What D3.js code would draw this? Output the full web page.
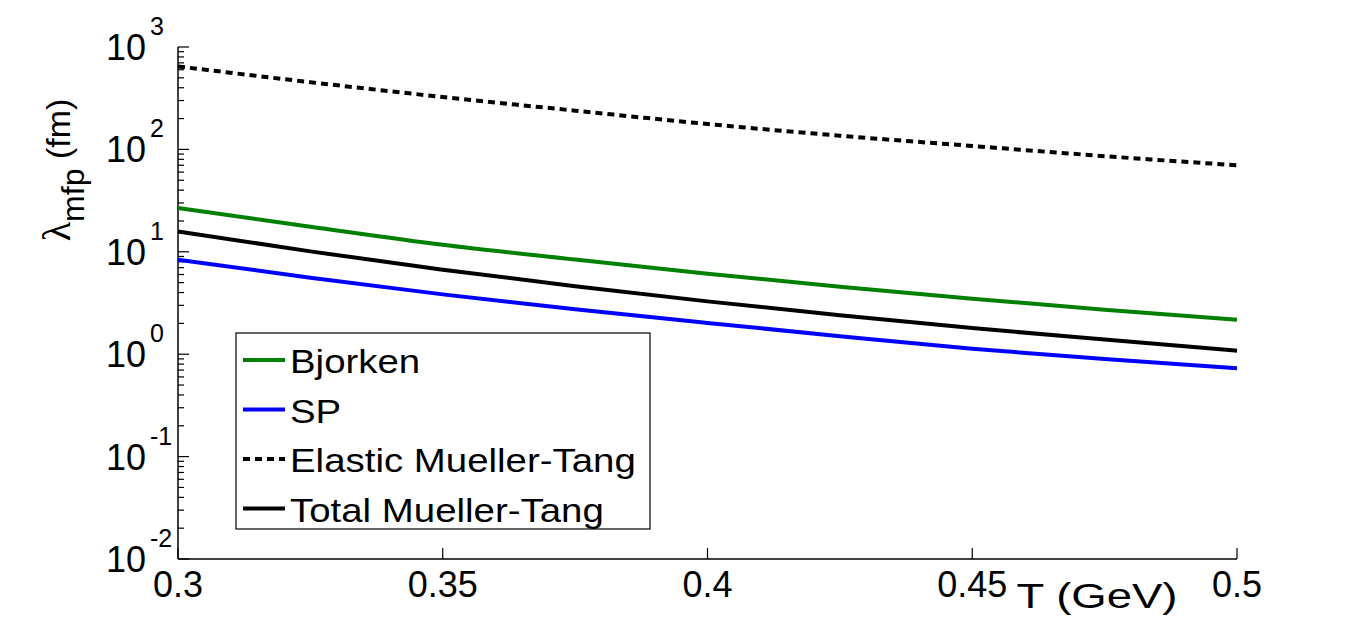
<!DOCTYPE html>
<html>
<head>
<meta charset="utf-8">
<script src="https://cdn.jsdelivr.net/npm/d3@7"></script>
<style>
  body { margin: 0; background: #fff; }
  text { font-family: "Liberation Sans", Arial, sans-serif; fill: #000; }
</style>
</head>
<body>
<svg id="chart" width="1367" height="628"></svg>
<script>
// data
var temps = [0.3, 0.325, 0.35, 0.375, 0.4, 0.425, 0.45, 0.475, 0.5];
var bjorken = [26.8, 17.6, 11.7, 8.4, 6.11, 4.56, 3.48, 2.72, 2.17];
var sp = [8.37, 5.58, 3.84, 2.75, 2.02, 1.50, 1.13, 0.90, 0.73];
var elasticMT = [646, 453, 325, 239, 177, 136, 108, 85.9, 70];
var totalMT = [15.8, 10.1, 6.69, 4.61, 3.28, 2.40, 1.80, 1.39, 1.08];
var xTicks = [0.3, 0.35, 0.4, 0.45, 0.5];
var yExps = [-2, -1, 0, 1, 2, 3];

var series = [
	{ name: "Bjorken", vals: bjorken, color: "#008000", dash: null },
	{ name: "SP", vals: sp, color: "#0000ff", dash: null },
	{ name: "Elastic Mueller-Tang", vals: elasticMT, color: "#000", dash: "7,5" },
	{ name: "Total Mueller-Tang", vals: totalMT, color: "#000", dash: null }
];

var svg = d3.select("#chart");
var pLeft = 178, pRight = 1237, pTop = 47, pBottom = 559;

var x = d3.scaleLinear().domain([0.3, 0.5]).range([pLeft, pRight]);
var y = d3.scaleLog().domain([0.01, 1000]).range([pBottom, pTop]);

// axes lines (box off)
svg.append("line").attr("x1", pLeft).attr("x2", pLeft).attr("y1", pTop).attr("y2", pBottom)
	.attr("stroke", "#000").attr("stroke-width", 1.5);
svg.append("line").attr("x1", pLeft).attr("x2", pRight).attr("y1", pBottom).attr("y2", pBottom)
	.attr("stroke", "#000").attr("stroke-width", 1.5);

// y ticks (inward), minor too
var minors = [];
yExps.forEach(function(e){
	if (e < 3) {
		for (var k = 2; k <= 9; k++) minors.push(k * Math.pow(10, e));
	}
});
svg.selectAll(".ymin").data(minors).enter().append("line")
	.attr("x1", pLeft).attr("x2", pLeft + 6)
	.attr("y1", function(d){ return y(d); }).attr("y2", function(d){ return y(d); })
	.attr("stroke", "#000").attr("stroke-width", 1.2);
svg.selectAll(".ymaj").data(yExps).enter().append("line")
	.attr("x1", pLeft).attr("x2", pLeft + 11)
	.attr("y1", function(d){ return y(Math.pow(10, d)); }).attr("y2", function(d){ return y(Math.pow(10, d)); })
	.attr("stroke", "#000").attr("stroke-width", 1.2);

var ylab = svg.selectAll(".ylab").data(yExps).enter().append("g");
ylab.append("text")
	.attr("x", 146).attr("y", function(d){ return y(Math.pow(10, d)) + 13; })
	.attr("text-anchor", "end").style("font-size", "36px")
	.text("10");
ylab.append("text")
	.attr("x", 150).attr("y", function(d){ return y(Math.pow(10, d)) - 12; })
	.style("font-size", "25px")
	.text(function(d){ return d; });

// x ticks
svg.selectAll(".xt").data(xTicks).enter().append("line")
	.attr("x1", function(d){ return x(d); }).attr("x2", function(d){ return x(d); })
	.attr("y1", pBottom).attr("y2", pBottom - 11)
	.attr("stroke", "#000").attr("stroke-width", 1.2);
svg.selectAll(".xl").data(xTicks).enter().append("text")
	.attr("x", function(d){ return x(d); }).attr("y", 597)
	.attr("text-anchor", "middle").style("font-size", "36px")
	.text(function(d){ return d; });

// axis titles
svg.append("g").attr("transform", "translate(1097,608) scale(1.3,1)")
	.append("text").attr("text-anchor", "middle").style("font-size", "35px").text("T (GeV)");

var yt = svg.append("text")
	.attr("transform", "translate(70,170) rotate(-90)")
	.attr("text-anchor", "middle").style("font-size", "34px");
yt.append("tspan").style("font-family", "'Liberation Serif', serif").style("font-size", "40px").text("λ");
yt.append("tspan").attr("dy", 14).style("font-size", "32px").text("mfp");
yt.append("tspan").attr("dy", -14).text(" (fm)");

// lines
var line = d3.line()
	.x(function(d, i){ return x(temps[i]); })
	.y(function(d){ return y(d); })
	.curve(d3.curveMonotoneX);

svg.selectAll(".series").data(series).enter().append("path")
	.attr("d", function(s){ return line(s.vals); })
	.attr("fill", "none")
	.attr("stroke", function(s){ return s.color; })
	.attr("stroke-width", 4)
	.attr("stroke-dasharray", function(s){ return s.dash; });

// legend
var lg = svg.append("g");
lg.append("rect").attr("x", 236).attr("y", 333).attr("width", 414).attr("height", 196)
	.attr("fill", "#fff").attr("stroke", "#000").attr("stroke-width", 1.2);
var items = lg.selectAll(".li").data(series).enter().append("g")
	.attr("transform", function(d, i){ return "translate(0," + (360 + i * 49.5) + ")"; });
items.append("line").attr("x1", 243).attr("x2", 285).attr("y1", 0).attr("y2", 0)
	.attr("stroke", function(s){ return s.color; }).attr("stroke-width", 4)
	.attr("stroke-dasharray", function(s){ return s.dash; });
items.append("g").attr("transform", "translate(290,13) scale(1.13,1)")
	.append("text").style("font-size", "34px")
	.text(function(s){ return s.name; });
</script>
</body>
</html>
